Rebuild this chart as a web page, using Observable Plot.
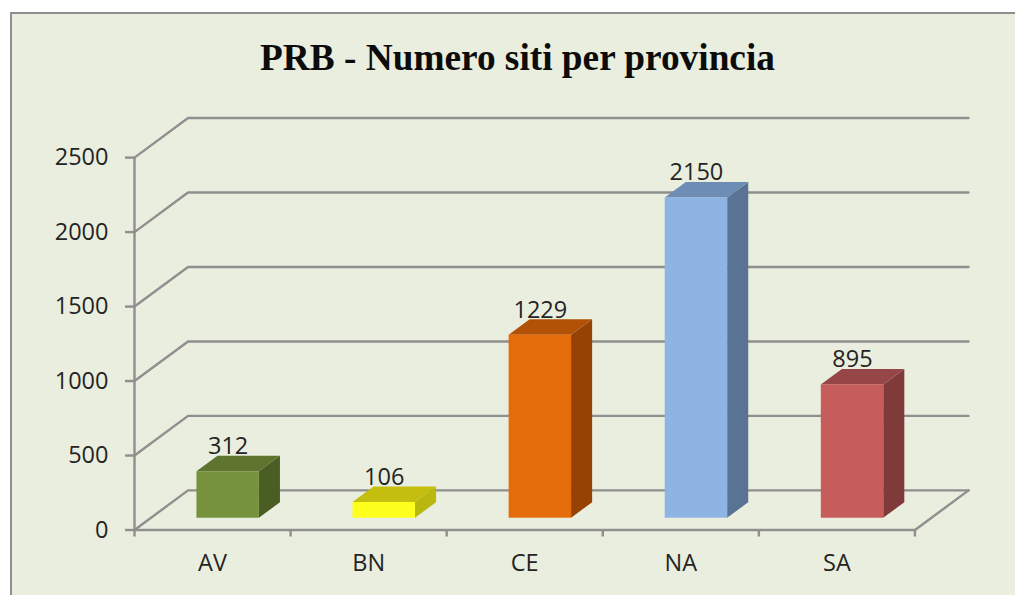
<!DOCTYPE html>
<html>
<head>
<meta charset="utf-8">
<script src="https://cdn.jsdelivr.net/npm/d3@7"></script>
<script src="https://cdn.jsdelivr.net/npm/@observablehq/plot@0.6"></script>
<style>
html,body{margin:0;padding:0;background:#fff;overflow:hidden}
#panel{position:absolute;left:10px;top:12px;width:1005px;height:583px;background:#eaeede;border-left:2px solid #8f8f8f;border-top:2px solid #8f8f8f;box-sizing:border-box}
#title{position:absolute;left:0;width:1035px;top:36px;text-align:center;font:bold 37.3px "Liberation Serif",serif;color:#0c0c0c}
#chart{position:absolute;left:0;top:0}
svg{background:transparent !important;overflow:visible}
</style>
</head>
<body>
<div id="panel"></div>
<div id="chart"></div>
<div id="title">PRB - Numero siti per provincia</div>
<script>
const title = "PRB - Numero siti per provincia";
const provinces = ["AV","BN","CE","NA","SA"];
const values = [312,106,1229,2150,895];
const frontColors = ["#76923c","#ffff1e","#e46c0a","#8eb4e3","#c65c5c"];
const topColors   = ["#5f752f","#c4bf0e","#b25207","#6e8db5","#964646"];
const sideColors  = ["#4a5d25","#b8b80f","#964205","#5a7394","#7f3a3a"];
const yTicks = [0,500,1000,1500,2000,2500];

// Pseudo-3D projection, expressed in data units of the two linear scales
const wallX = 0.343, wallY = 266;     // depth of the back wall
const barStart = 0.4, barWidth = 0.4; // bar front face inside its category
const barBase = 79;                   // lift of the bar's front foot above the floor
const barDX = 0.135, barDY = 104;     // depth of a bar
const n = provinces.length;
const grey = "#8f8f8f";
const line = {stroke: grey, strokeWidth: 2.4};
const labelSize = 23.5, ink = "#242424";

const grid = yTicks.map(v => Plot.line(
  [[0,v],[wallX,v+wallY],[n+wallX,v+wallY]], line));

const bars = provinces.flatMap((p,i) => {
  const x1 = i+barStart, x2 = x1+barWidth, y1 = barBase, y2 = barBase+values[i];
  return [
    Plot.areaY([{x:x2,a:y1,b:y2},{x:x2+barDX,a:y1+barDY,b:y2+barDY}],
      {x:"x",y1:"a",y2:"b",fill:sideColors[i]}),
    Plot.areaX([{y:y2,a:x1,b:x2},{y:y2+barDY,a:x1+barDX,b:x2+barDX}],
      {y:"y",x1:"a",x2:"b",fill:topColors[i]}),
    Plot.rect([{x1,x2,y1,y2}],{x1:"x1",x2:"x2",y1:"y1",y2:"y2",fill:frontColors[i]})
  ];
});

const plot = Plot.plot({
  width: 1015, height: 595,
  marginLeft: 134, marginRight: 47, marginTop: 117.5, marginBottom: 65.5,
  style: {background:"transparent", fontFamily:"'Open Sans',sans-serif", fontSize:labelSize+"px", color:ink},
  x: {type:"linear", domain:[0,n+wallX]},
  y: {type:"linear", domain:[0,2500+wallY]},
  marks: [
    ...grid,
    Plot.line([[n,0],[n+wallX,wallY]], line),
    Plot.line([[0,0],[n,0]], line),
    Plot.line([[0,0],[0,2500]], line),
    Plot.axisY({ticks:yTicks, tickSize:9, tickPadding:17, stroke:grey, strokeWidth:2.4, label:null, tickFormat:d=>String(d), fontSize:labelSize}),
    Plot.axisX({ticks:d3.range(0,n+1), tickSize:7, tickFormat:()=>"", stroke:grey, strokeWidth:2.4, label:null}),
    Plot.text(provinces,{x:(d,i)=>i+0.5,y:0,text:d=>d,lineAnchor:"top",dy:24,fontSize:labelSize,fill:ink}),
    ...bars,
    Plot.text(values,{x:(d,i)=>i+barStart+barWidth/2,y:(d)=>d+barBase+barDY,text:d=>String(d),
      lineAnchor:"bottom",dy:-2,fontSize:labelSize,fill:ink})
  ]
});
document.getElementById("chart").appendChild(plot);
</script>
</body>
</html>
